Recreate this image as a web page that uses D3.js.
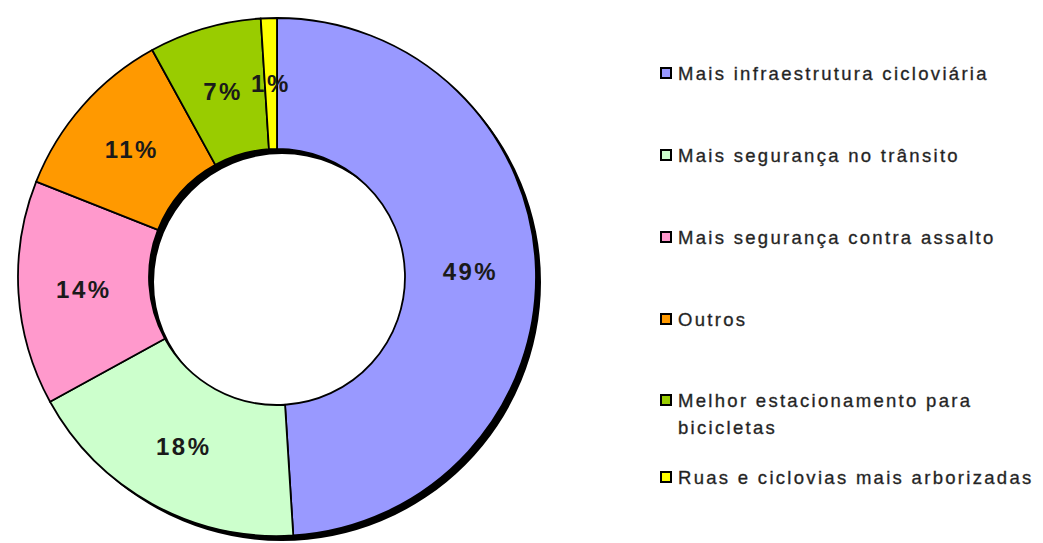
<!DOCTYPE html>
<html>
<head>
<meta charset="utf-8">
<script src="https://cdn.jsdelivr.net/npm/d3@7"></script>
<style>
  html, body { margin: 0; padding: 0; background: #fff; }
  svg { display: block; }
</style>
</head>
<body>
<svg id="chart" width="1043" height="543"></svg>
<script>
// Survey answers: what would encourage more cycling
const categories = [
  "Mais infraestrutura cicloviária",
  "Mais segurança no trânsito",
  "Mais segurança contra assalto",
  "Outros",
  "Melhor estacionamento para bicicletas",
  "Ruas e ciclovias mais arborizadas"
];
const values = [49, 18, 14, 11, 7, 1];
const colors = ["#9999FF", "#CCFFCC", "#FF99CC", "#FF9900", "#99CC00", "#FFFF00"];
// Legend text, split where the entry wraps
const legendLines = [
  ["Mais infraestrutura cicloviária"],
  ["Mais segurança no trânsito"],
  ["Mais segurança contra assalto"],
  ["Outros"],
  ["Melhor estacionamento para", "bicicletas"],
  ["Ruas e ciclovias mais arborizadas"]
];

// Layout
const cx = 277, cy = 277;
const rOuter = 259, rInner = 128;
const shadowDx = 5, shadowDy = 5;
const legendX = 660, legendRowY = [73, 155, 237, 319, 400, 477], legendLineH = 27;

const svg = d3.select("#chart");

const data = categories.map((c, i) => ({ name: c, value: values[i], color: colors[i] }));

const pie = d3.pie().value(d => d.value).sort(null);
const arcs = pie(data);
const arc = d3.arc().innerRadius(rInner).outerRadius(rOuter);
const labelArc = d3.arc().innerRadius((rInner + rOuter) / 2).outerRadius((rInner + rOuter) / 2);

// Dark offset ring gives the donut its raised look
svg.append("path")
  .attr("transform", `translate(${cx + shadowDx},${cy + shadowDy})`)
  .attr("d", d3.arc().innerRadius(rInner).outerRadius(rOuter).startAngle(0).endAngle(2 * Math.PI)())
  .attr("fill", "#000");

const g = svg.append("g").attr("transform", `translate(${cx},${cy})`);

g.selectAll("path.slice")
  .data(arcs)
  .join("path")
  .attr("class", "slice")
  .attr("d", arc)
  .attr("fill", d => d.data.color)
  .attr("stroke", "#000")
  .attr("stroke-width", 1.8)
  .attr("stroke-linejoin", "round");

g.selectAll("text.pct")
  .data(arcs)
  .join("text")
  .attr("class", "pct")
  .attr("transform", d => `translate(${labelArc.centroid(d)})`)
  .attr("text-anchor", "middle")
  .attr("dy", "0.36em")
  .attr("font-family", "Liberation Sans, Arial, sans-serif")
  .attr("font-weight", "bold")
  .attr("font-size", 24)
  .attr("letter-spacing", 2.5)
  .attr("fill", "#1a1a1a")
  .text(d => d.data.value + "%");

// Legend
const legend = svg.append("g");
const items = legend.selectAll("g.item")
  .data(data)
  .join("g")
  .attr("class", "item")
  .attr("transform", (d, i) => `translate(${legendX},${legendRowY[i]})`);

items.append("rect")
  .attr("x", 1).attr("y", -5)
  .attr("width", 10).attr("height", 10)
  .attr("fill", d => d.color)
  .attr("stroke", "#000")
  .attr("stroke-width", 2);

items.append("text")
  .attr("font-family", "Liberation Sans, Arial, sans-serif")
  .attr("font-size", 18.5)
  .attr("letter-spacing", 2.3)
  .attr("fill", "#1e1e1e")
  .attr("stroke", "#333")
  .attr("stroke-width", 0.35)
  .selectAll("tspan")
  .data((d, i) => legendLines[i])
  .join("tspan")
  .attr("x", 18)
  .attr("y", (t, j) => j * legendLineH)
  .attr("dy", "0.36em")
  .text(t => t);
</script>
</body>
</html>
